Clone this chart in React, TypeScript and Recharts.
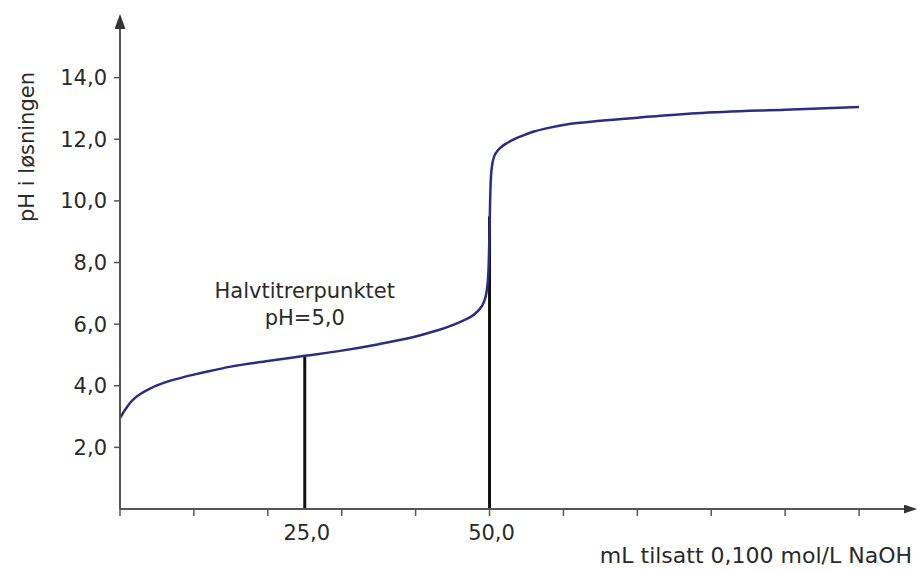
import { LineChart, Line, XAxis, YAxis, ReferenceLine, ReferenceDot, Label } from "recharts";

const FONT = "'DejaVu Sans', Verdana, sans-serif";
const CURVE = "#2b2d84";
const INK = "#2a2a2a";
const AXIS = "#555";

// mL NaOH added
const volumeMl = [
  0, 0.25, 0.5, 1, 1.5, 2, 3, 4, 5, 6, 8, 10, 12, 15, 20, 25, 30, 35, 40, 43, 45, 46.5, 48,
  48.7, 49.2, 49.6, 49.85, 50, 50.1, 50.2, 50.35, 50.6, 51, 51.6, 52.4, 53.5, 54.5, 56, 58, 61,
  65, 70, 78, 90, 100,
];
// pH of the solution
const phValues = [
  2.95, 3.05, 3.15, 3.33, 3.48, 3.6, 3.77, 3.9, 4.01, 4.1, 4.24, 4.36, 4.47, 4.62, 4.8, 4.97,
  5.14, 5.35, 5.6, 5.8, 5.97, 6.12, 6.33, 6.5, 6.7, 7.05, 7.7, 9.0, 10.2, 10.8, 11.15, 11.42,
  11.6, 11.75, 11.88, 12.02, 12.12, 12.25, 12.37, 12.5, 12.6, 12.7, 12.84, 12.96, 13.05,
];

const xTicks = [0, 10, 20, 25, 30, 40, 50, 60, 70, 80, 90, 100];
const xLabelled = [25, 50];
const yTicks = [2, 4, 6, 8, 10, 12, 14];

// vertical marker lines: half titration point and equivalence point
const markerVolumes = [25, 50];
const markerTops = [4.97, 9.5];

const data = volumeMl.map((v, i) => ({ v, ph: phValues[i] }));

const fmt = (n: number) => n.toFixed(1).replace(".", ",");

function XTick(props: any) {
  const { x, y, payload } = props;
  const v = payload.value;
  return (
    <g>
      {v % 10 === 0 && <line x1={x} y1={y} x2={x} y2={y + 7} stroke={AXIS} strokeWidth={1.5} />}
      {xLabelled.includes(v) && (
        <text x={x + 2} y={y + 31} textAnchor="middle" fontSize={21} fill={INK} fontFamily={FONT}>
          {fmt(v)}
        </text>
      )}
    </g>
  );
}

export default function App() {
  return (
    <div style={{ position: "absolute", left: 0, top: 0, width: 917, height: 570, background: "#fff" }}>
      <svg width={0} height={0} style={{ position: "absolute" }}>
        <defs>
          <marker id="arrowX" viewBox="0 0 13 9" refX={9} refY={4.5} markerWidth={13} markerHeight={9} markerUnits="userSpaceOnUse" orient="auto">
            <path d="M0,0 L13,4.5 L0,9 z" fill="#333" />
          </marker>
          <marker id="arrowY" viewBox="0 0 15 11" refX={13} refY={5.5} markerWidth={15} markerHeight={11} markerUnits="userSpaceOnUse" orient="auto-start-reverse">
            <path d="M0,0 L15,5.5 L0,11 z" fill="#333" />
          </marker>
        </defs>
      </svg>
      <LineChart width={917} height={570} data={data} margin={{ top: 16, right: 4, bottom: 0, left: 0 }}>
        <XAxis
          type="number"
          dataKey="v"
          domain={[0, 107.3]}
          ticks={xTicks}
          interval={0}
          allowDataOverflow
          tick={<XTick />}
          tickLine={false}
          tickSize={0}
          tickMargin={0}
          height={61}
          axisLine={{ stroke: AXIS, strokeWidth: 2, markerEnd: "url(#arrowX)" } as any}
        >
          <Label
            content={(p: any) => (
              <text x={p.viewBox.x + p.viewBox.width - 1} y={563} textAnchor="end" fontSize={22} fill={INK} fontFamily={FONT}>
                mL tilsatt 0,100 mol/L NaOH
              </text>
            )}
          />
        </XAxis>
        <YAxis
          type="number"
          domain={[0, 16]}
          ticks={yTicks}
          interval={0}
          allowDataOverflow
          width={120}
          tickSize={6}
          tickMargin={7}
          tickFormatter={fmt}
          tick={{ fontSize: 21, fill: INK, fontFamily: FONT }}
          tickLine={{ stroke: AXIS, strokeWidth: 1.5 }}
          axisLine={{ stroke: AXIS, strokeWidth: 2, markerStart: "url(#arrowY)" } as any}
        >
          <Label
            content={() => (
              <text x={34} y={147} textAnchor="middle" fontSize={21} fill={INK} fontFamily={FONT} transform="rotate(-90, 34, 147)">
                pH i løsningen
              </text>
            )}
          />
        </YAxis>
        {markerVolumes.map((mv, i) => (
          <ReferenceLine
            key={mv}
            segment={[{ x: mv, y: 0 }, { x: mv, y: markerTops[i] }]}
            stroke="#111"
            strokeWidth={3}
          />
        ))}
        <Line type="monotone" dataKey="ph" stroke={CURVE} strokeWidth={2.5} dot={false} isAnimationActive={false} />
        <ReferenceDot
          x={25}
          y={6.84}
          r={0}
          fill="none"
          stroke="none"
          label={{
            content: (p: any) => (
              <text x={p.viewBox.x} y={p.viewBox.y} textAnchor="middle" fontSize={21} fill={INK} fontFamily={FONT}>
                <tspan x={p.viewBox.x}>Halvtitrerpunktet</tspan>
                <tspan x={p.viewBox.x} dy={27}>pH=5,0</tspan>
              </text>
            ),
          }}
        />
      </LineChart>
    </div>
  );
}
